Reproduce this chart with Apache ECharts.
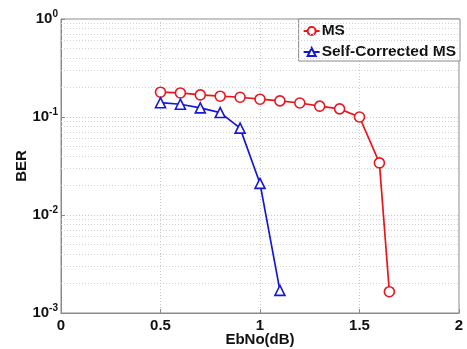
<!DOCTYPE html>
<html>
<head>
<meta charset="utf-8">
<script src="https://cdn.jsdelivr.net/npm/echarts@6/dist/echarts.min.js"></script>
<style>
  html, body { margin: 0; padding: 0; background: #fff; }
  #chart { width: 467px; height: 349px; }
</style>
</head>
<body>
<div id="chart"></div>
<script>
// values
const ebno = [0.5, 0.6, 0.7, 0.8, 0.9, 1.0, 1.1, 1.2, 1.3, 1.4, 1.5, 1.6, 1.65];
const berMS = [0.179, 0.176, 0.168, 0.163, 0.159, 0.152, 0.146, 0.139, 0.129, 0.121, 0.1, 0.034, 0.00165];
const ebnoSC = [0.5, 0.6, 0.7, 0.8, 0.9, 1.0, 1.1];
const berSC = [0.14, 0.135, 0.124, 0.111, 0.077, 0.021, 0.0017];
const xTicks = [0, 0.5, 1, 1.5, 2];
const decades = [0.001, 0.01, 0.1];
const minorSteps = [2, 3, 4, 5, 6, 7, 8, 9];

const FONT = 'Liberation Sans, Arial, sans-serif';
const RED = '#e8161c';
const BLUE = '#1717d6';

// minor log gridlines (MATLAB style), spanning the x range
let minorLines = [];
for (let d of decades) {
    for (let m of minorSteps) {
        minorLines.push([{ coord: [0, d * m] }, { coord: [2, d * m] }]);
    }
}

let myChart = echarts.init(document.getElementById('chart'), null, { renderer: 'canvas' });
myChart.setOption({
    animation: false,
    backgroundColor: '#fff',
    grid: {
        left: 61, right: 8, top: 19, bottom: 36,
        outerBoundsMode: 'none',
        containLabel: false,
        show: true, borderColor: '#8a8a8a', borderWidth: 1
    },
    legend: {
        right: 7, top: 19,
        orient: 'vertical',
        padding: [4, 4, 1, 4],
        itemGap: 5,
        itemWidth: 16, itemHeight: 10,
        backgroundColor: '#fff',
        borderColor: '#8a8a8a', borderWidth: 1,
        textStyle: {
            fontFamily: FONT, fontWeight: 'bold', fontSize: 15.5, color: '#111',
            lineHeight: 16, padding: [0, 0, 0, -3]
        },
        data: ['MS', 'Self-Corrected MS']
    },
    xAxis: {
        type: 'value',
        min: 0, max: 2, interval: 0.5,
        name: 'EbNo(dB)',
        nameLocation: 'middle',
        nameGap: 19,
        nameMoveOverlap: false,
        nameTextStyle: { fontFamily: FONT, fontWeight: 'bold', fontSize: 15, color: '#111' },
        axisLine: { show: true, onZero: false, lineStyle: { color: '#8a8a8a' } },
        axisTick: { show: true, inside: true, length: 4, lineStyle: { color: '#8a8a8a' } },
        axisLabel: {
            fontFamily: FONT, fontWeight: 'bold', fontSize: 15, color: '#111', margin: 5,
            formatter: v => xTicks.includes(v) ? String(v) : ''
        },
        splitLine: { show: true, lineStyle: { color: '#c8c8c8', type: [1, 2], width: 1 } }
    },
    yAxis: {
        type: 'log',
        min: 0.001, max: 1, logBase: 10,
        name: 'BER',
        nameLocation: 'middle',
        nameGap: 32,
        nameMoveOverlap: false,
        nameTextStyle: { fontFamily: FONT, fontWeight: 'bold', fontSize: 15, color: '#111' },
        axisLine: { show: true, lineStyle: { color: '#8a8a8a' } },
        axisTick: { show: true, inside: true, length: 4, lineStyle: { color: '#8a8a8a' } },
        axisLabel: {
            margin: 3,
            formatter: v => '{b|10}{s|' + Math.round(Math.log10(v)) + '}',
            rich: {
                b: { fontFamily: FONT, fontWeight: 'bold', fontSize: 15, color: '#111' },
                s: { fontFamily: FONT, fontWeight: 'bold', fontSize: 10, color: '#111', padding: [0, 0, 9, 0] }
            }
        },
        splitLine: { show: true, lineStyle: { color: '#c8c8c8', type: [1, 2], width: 1 } }
    },
    series: [
        {
            name: 'MS',
            type: 'line',
            data: ebno.map((x, i) => [x, berMS[i]]),
            symbol: 'circle', symbolSize: 10,
            itemStyle: { color: '#fff', borderColor: RED, borderWidth: 1.6 },
            lineStyle: { color: RED, width: 1.7 },
            z: 5,
            markLine: {
                silent: true, symbol: 'none', label: { show: false },
                lineStyle: { color: '#d0d0d0', type: [1, 2], width: 1 },
                data: minorLines
            }
        },
        {
            name: 'Self-Corrected MS',
            type: 'line',
            data: ebnoSC.map((x, i) => [x, berSC[i]]),
            symbol: 'triangle', symbolSize: 10,
            itemStyle: { color: '#fff', borderColor: BLUE, borderWidth: 1.6 },
            lineStyle: { color: BLUE, width: 1.7 },
            z: 5
        }
    ]
});
</script>
</body>
</html>
